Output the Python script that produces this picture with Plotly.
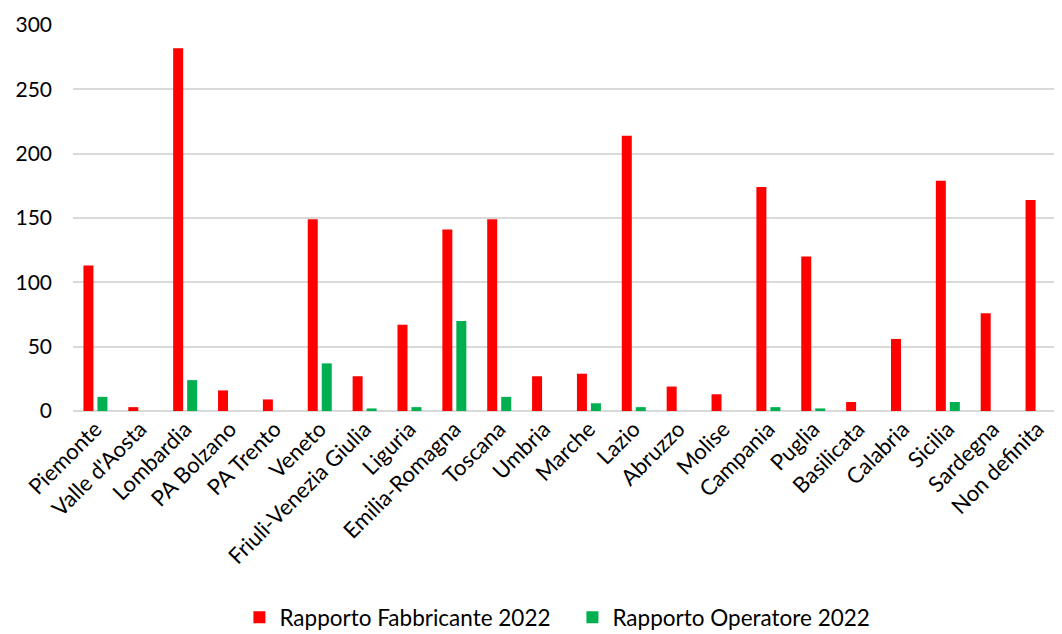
import plotly.graph_objects as go

categories = ["Piemonte", "Valle d'Aosta", "Lombardia", "PA Bolzano", "PA Trento", "Veneto",
              "Friuli-Venezia Giulia", "Liguria", "Emilia-Romagna", "Toscana", "Umbria", "Marche",
              "Lazio", "Abruzzo", "Molise", "Campania", "Puglia", "Basilicata", "Calabria",
              "Sicilia", "Sardegna", "Non definita"]
fabbricante_2022 = [113, 3, 282, 16, 9, 149, 27, 67, 141, 149, 27, 29, 214, 19, 13, 174, 120, 7, 56, 179, 76, 164]
operatore_2022 = [11, 0, 24, 0, 0, 37, 2, 3, 70, 11, 0, 6, 3, 0, 0, 3, 2, 0, 0, 7, 0, 0]
y_ticks = [0, 50, 100, 150, 200, 250, 300]

FONT = "Lato, Carlito, Calibri, sans-serif"

fig = go.Figure()
fig.add_trace(go.Bar(x=categories, y=fabbricante_2022, name="Rapporto Fabbricante 2022",
                     marker=dict(color="#ff0000", line=dict(width=0))))
fig.add_trace(go.Bar(x=categories, y=operatore_2022, name="Rapporto Operatore 2022",
                     marker=dict(color="#00b050", line=dict(width=0))))

fig.update_layout(
    width=1054, height=626,
    margin=dict(l=65, r=2, t=17, b=223, autoexpand=False),
    paper_bgcolor="white", plot_bgcolor="white",
    barmode="group", bargap=0.376, bargroupgap=0.286,
    font=dict(family=FONT, size=21, color="#000000"),
    showlegend=True,
    legend=dict(orientation="h", x=0.506, xanchor="center", y=-0.535, yanchor="middle",
                font=dict(family=FONT, size=22.5, color="#000000"),
                itemwidth=30, tracegroupgap=0, entrywidth=288, entrywidthmode="pixels"),
    xaxis=dict(tickangle=-45, showgrid=False, showline=False, ticks="", automargin=False,
               tickfont=dict(family=FONT, size=22, color="#000000")),
    yaxis=dict(range=[0, 300], tickvals=y_ticks, showgrid=True, gridcolor="#d9d9d9", gridwidth=1.5,
               zeroline=True, zerolinecolor="#d9d9d9", zerolinewidth=1.5, showline=False, ticks="",
               automargin=False, ticklabelstandoff=20,
               tickfont=dict(family=FONT, size=21, color="#000000")),
)

fig.write_html("out.html")
